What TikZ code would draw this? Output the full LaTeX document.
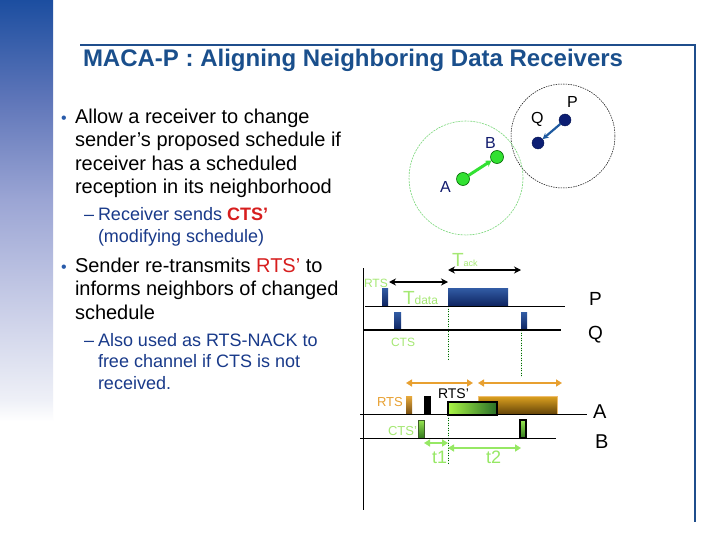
\documentclass[tikz,border=0pt]{standalone}
\usepackage{fontspec}
\setmainfont{Liberation Sans}
\usetikzlibrary{arrows.meta}
\definecolor{titleblue}{RGB}{26,79,140}
\definecolor{framblue}{RGB}{31,78,140}
\definecolor{subblue}{RGB}{25,58,138}
\definecolor{bulblue}{RGB}{40,90,170}
\definecolor{redtxt}{RGB}{215,30,30}
\definecolor{lgreen}{RGB}{165,232,115}
\definecolor{tgreen}{RGB}{150,232,100}
\definecolor{dotgreen}{RGB}{160,225,130}
\definecolor{orng}{RGB}{232,160,48}
\definecolor{navy}{RGB}{18,28,110}
\definecolor{pqnavy}{RGB}{12,30,115}
\definecolor{pqarrow}{RGB}{30,90,160}
\definecolor{abgreen}{RGB}{50,225,50}
\definecolor{circgreen}{RGB}{120,215,120}
\definecolor{barhi}{RGB}{50,92,165}
\definecolor{barlo}{RGB}{14,36,96}
\definecolor{lb0}{RGB}{28,78,160}
\definecolor{lb1}{RGB}{95,118,185}
\definecolor{lb2}{RGB}{155,165,212}
\definecolor{lb3}{RGB}{198,203,230}
\definecolor{lb4}{RGB}{238,240,247}
\pgfdeclareverticalshading{leftbar}{100bp}{color(0bp)=(white); color(36bp)=(white); color(38bp)=(lb4); color(47.2bp)=(lb3); color(56.5bp)=(lb2); color(65.7bp)=(lb1); color(75bp)=(lb0); color(100bp)=(lb0)}
\tikzset{
  every node/.style={inner sep=0pt, outer sep=0pt},
  txtmain/.style={anchor=base west, font=\fontsize{20}{24}\selectfont, text=black},
  txtsub/.style={anchor=base west, font=\fontsize{18}{22}\selectfont, text=subblue},
  bulletdot/.style={anchor=base west, font=\fontsize{16}{18}\selectfont, text=bulblue},
  dotnavy/.style={circle, fill=pqnavy, draw=pqnavy!70!black, minimum size=12pt},
  dotgreen/.style={circle, fill=abgreen, draw=green!40!black, line width=0.6pt, minimum size=13pt},
  netlbl/.style={anchor=base west, font=\fontsize{16}{16}\selectfont},
  tlbl/.style={anchor=base west, font=\fontsize{12}{12}\selectfont},
  axlbl/.style={anchor=base west, font=\fontsize{19}{19}\selectfont, text=black},
  tarrow/.style={black, line width=2pt, {Stealth[length=7pt,width=7pt]}-{Stealth[length=7pt,width=7pt]}},
  oarrow/.style={orng, line width=1.6pt, {Triangle[length=6pt,width=7pt]}-{Triangle[length=6pt,width=7pt]}},
  garrow/.style={tgreen, line width=1.6pt, {Triangle[length=6pt,width=7pt]}-{Triangle[length=6pt,width=7pt]}},
  gdots/.style={dotgreen, line width=0.9pt, dash pattern=on 1pt off 1.5pt},
  tline/.style={black, line width=1pt},
}
\begin{document}
\begin{tikzpicture}[x=1pt,y=-1pt]
\useasboundingbox (0,0) rectangle (720,540);
\fill[white] (0,0) rectangle (720,540);
\shade[shading=leftbar] (0,0) rectangle (53,540);
% frame
\coordinate (f1) at (80,45);
\coordinate (f2) at (695,45);
\coordinate (f3) at (695,522);
\draw[framblue, line width=2pt] (f1) -- (f2) -- (f3);
% title
\node[anchor=base west, font=\fontsize{24}{28}\selectfont\bfseries, text=titleblue] (title) at (83,67) {MACA-P : Aligning Neighboring Data Receivers};
% bullets
\node[bulletdot] (b1) at (61,123.5) {•};
\node[txtmain] (m1a) at (75,123.5) {Allow a receiver to change};
\node[txtmain] (m1b) at (75,147) {sender’s proposed schedule if};
\node[txtmain] (m1c) at (75,170.5) {receiver has a scheduled};
\node[txtmain] (m1d) at (75,194) {reception in its neighborhood};
\node[txtsub] (s1d) at (84,221) {–};
\node[txtsub] (s1a) at (98,221) {Receiver sends \textcolor{redtxt}{\bfseries CTS’}};
\node[txtsub] (s1b) at (98,243) {(modifying schedule)};
\node[bulletdot] (b2) at (61,272) {•};
\node[txtmain] (m2a) at (75,272) {Sender re-transmits \textcolor{redtxt}{RTS’} to};
\node[txtmain] (m2b) at (75,295.5) {informs neighbors of changed};
\node[txtmain] (m2c) at (75,319) {schedule};
\node[txtsub] (s2d) at (84,346) {–};
\node[txtsub] (s2a) at (98,346) {Also used as RTS-NACK to};
\node[txtsub] (s2b) at (98,367.5) {free channel if CTS is not};
\node[txtsub] (s2c) at (98,389) {received.};
% network
\draw[black, line width=0.5pt, dash pattern=on 1.5pt off 1pt] (563,136) circle[radius=52];
\draw[circgreen, line width=0.6pt, dash pattern=on 2pt off 1pt] (466,178) circle[radius=57];
\node[dotnavy] (P) at (565,120) {};
\node[dotnavy] (Q) at (538,143) {};
\node[dotgreen] (A) at (463,179) {};
\node[dotgreen] (B) at (497,157) {};
\draw[pqarrow, line width=2.2pt, -{Stealth[length=6pt,width=6pt]}] (P) -- (Q);
\draw[abgreen, line width=3pt, -{Stealth[length=6pt,width=7pt]}] (A) -- (B);
\node[netlbl, text=black] (lP) at (567,108) {P};
\node[netlbl, text=black] (lQ) at (531,123.5) {Q};
\node[netlbl, text=navy] (lA) at (440,193) {A};
\node[netlbl, text=navy] (lB) at (485,149) {B};
% timing diagram: axis and lines
\coordinate (ax1) at (363,268);
\coordinate (ax2) at (363,510);
\draw[black, line width=0.8pt] (ax1) -- (ax2);
% dotted guides
\draw[gdots] (448,306) -- (448,360);
\draw[gdots] (448,415) -- (448,463);
\draw[gdots] (521,330) -- (521,377);
% P and Q
\shade[top color=barhi, bottom color=barlo] (382,288) rectangle (388,306);
\shade[top color=barhi, bottom color=barlo] (448,288) rectangle (508,306);
\shade[top color=barhi, bottom color=barlo] (394,312) rectangle (401,330);
\shade[top color=barhi, bottom color=barlo] (521,312) rectangle (527,330);
\draw[tline] (365,306) -- (565,306);
\draw[black, line width=2pt] (363,330) -- (561,330);
\coordinate (td1) at (389,282);
\coordinate (td2) at (448,282);
\coordinate (ta1) at (448,270);
\coordinate (ta2) at (521,270);
\draw[tarrow] (td1) -- (td2);
\draw[tarrow] (ta1) -- (ta2);
\node[tlbl, text=lgreen] (lrts) at (364,287) {RTS};
\node[tlbl, text=lgreen] (lcts) at (391,346) {CTS};
\node[anchor=base west, text=lgreen] (ltd) at (403,304) {\fontsize{19}{19}\selectfont T\fontsize{12}{12}\selectfont data};
\node[anchor=base west, text=lgreen] (lta) at (452,266) {\fontsize{19}{19}\selectfont T\fontsize{9}{9}\selectfont ack};
\node[axlbl] (tP) at (589,305) {P};
\node[axlbl] (tQ) at (588,339) {Q};
% A and B
\coordinate (o1) at (406,383);
\coordinate (o2) at (473,383);
\coordinate (o3) at (478,383);
\coordinate (o4) at (562,383);
\draw[oarrow] (o1) -- (o2);
\draw[oarrow] (o3) -- (o4);
\shade[top color={rgb,255:red,222;green,162;blue,32}, bottom color={rgb,255:red,100;green,68;blue,8}, draw=orng!70, line width=0.5pt] (478,396) rectangle (557,414);
\shade[top color={rgb,255:red,232;green,170;blue,60}, bottom color={rgb,255:red,120;green,80;blue,20}] (406,396) rectangle (412,414);
\fill[black] (424,396) rectangle (431,414);
\shade[left color={rgb,255:red,170;green,245;blue,70}, right color={rgb,255:red,40;green,110;blue,40}, draw=black, line width=2.5pt] (448,402) rectangle (497,415);
\shade[top color={rgb,255:red,150;green,230;blue,80}, bottom color={rgb,255:red,50;green,120;blue,30}, draw={rgb,255:red,60;green,90;blue,40}, line width=0.5pt] (418,420) rectangle (424,438);
\shade[top color={rgb,255:red,150;green,230;blue,80}, bottom color={rgb,255:red,50;green,120;blue,30}, draw=black, line width=2.5pt] (520,420) rectangle (526,438);
\draw[tline] (360,414) -- (587,414);
\draw[tline] (360,438) -- (556,438);
\coordinate (g1) at (424,443);
\coordinate (g2) at (448,443);
\coordinate (g3) at (448,448);
\coordinate (g4) at (521,448);
\draw[garrow] (g1) -- (g2);
\draw[garrow] (g3) -- (g4);
\node[tlbl, text=orng, font=\fontsize{13}{13}\selectfont] (lrtsa) at (377,406) {RTS};
\node[tlbl, text=black, font=\fontsize{14}{14}\selectfont] (lrtsp) at (438,398) {RTS’};
\node[tlbl, text=lgreen, font=\fontsize{13}{13}\selectfont] (lctsp) at (388,435) {CTS’};
\node[anchor=base west, text=tgreen, font=\fontsize{18}{18}\selectfont] (lt1) at (432,463) {t1};
\node[anchor=base west, text=tgreen, font=\fontsize{18}{18}\selectfont] (lt2) at (486,463) {t2};
\node[axlbl, font=\fontsize{20}{20}\selectfont] (tA) at (593,418) {A};
\node[axlbl, font=\fontsize{20}{20}\selectfont] (tB) at (595,448) {B};
\end{tikzpicture}
\end{document}
